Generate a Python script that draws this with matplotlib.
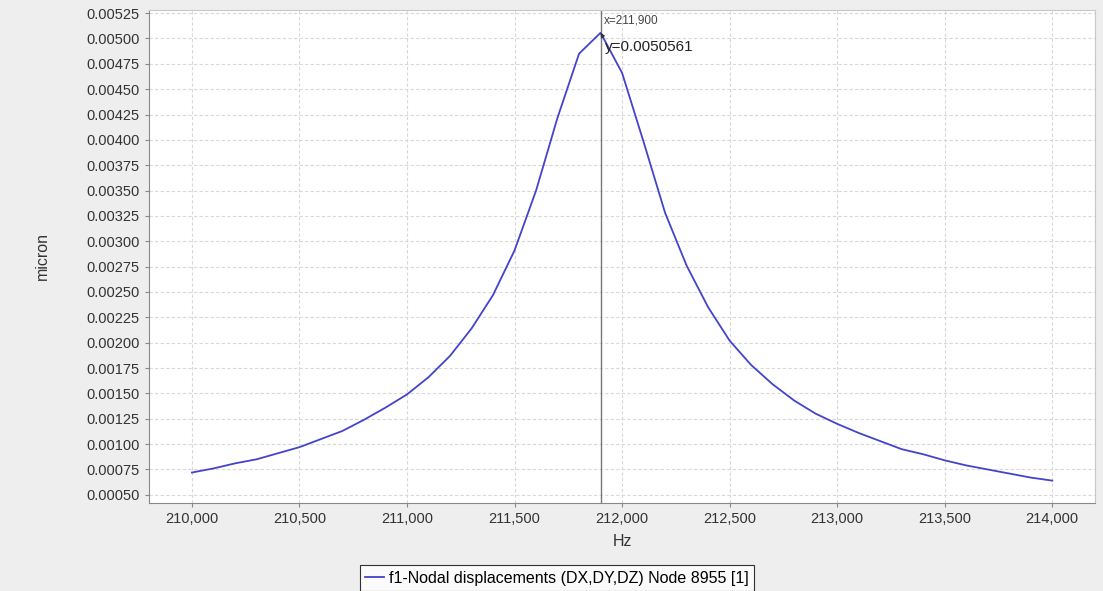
import matplotlib
matplotlib.use("Agg")
import matplotlib.pyplot as plt
from matplotlib.ticker import FuncFormatter, MultipleLocator

# frequency sweep (Hz) and displacement amplitude (micron)
freq = [210000, 210100, 210200, 210300, 210400, 210500, 210600, 210700, 210800, 210900,
        211000, 211100, 211200, 211300, 211400, 211500, 211600, 211700, 211800, 211900,
        212000, 212100, 212200, 212300, 212400, 212500, 212600, 212700, 212800, 212900,
        213000, 213100, 213200, 213300, 213400, 213500, 213600, 213700, 213800, 213900,
        214000]
disp = [0.00072, 0.00076, 0.00081, 0.00085, 0.00091, 0.00097, 0.00105, 0.00113, 0.00124, 0.00136,
        0.00149, 0.00166, 0.00187, 0.00214, 0.00247, 0.00291, 0.00350, 0.00422, 0.00485, 0.0050561,
        0.00466, 0.00398, 0.00328, 0.00276, 0.00235, 0.00202, 0.00178, 0.00159, 0.00143, 0.00130,
        0.00120, 0.00111, 0.00103, 0.00095, 0.00090, 0.00084, 0.00079, 0.00075, 0.00071, 0.00067,
        0.00064]
series_name = "f1-Nodal displacements (DX,DY,DZ) Node 8955 [1]"
cursor_x = 211900
cursor_y = 0.0050561

plt.rcParams['font.family'] = ['Liberation Sans', 'DejaVu Sans']

fig = plt.figure(figsize=(11.03, 5.91), dpi=100)
fig.patch.set_facecolor('#eeeeee')
ax = fig.add_axes([0.135, 0.149, 0.858, 0.834])
ax.set_facecolor('white')

line, = ax.plot(freq, disp, color='#4343cc', lw=1.3, label=series_name)

ax.set_xlim(209800, 214200)
ax.set_ylim(0.00042, 0.00528)
ax.xaxis.set_major_locator(MultipleLocator(500))
ax.yaxis.set_major_locator(MultipleLocator(0.00025))
ax.xaxis.set_major_formatter(FuncFormatter(lambda v, p: f"{int(round(v)):,}"))
ax.yaxis.set_major_formatter(FuncFormatter(lambda v, p: f"{v:.5f}"))
ax.tick_params(labelsize=10.5, length=3, width=0.8, direction='out',
               colors='#888888', labelcolor='#333333')

ax.grid(True, color='#d8d8d8', linestyle=(0, (3, 2)), lw=0.8)
ax.set_axisbelow(True)
for side in ['top', 'right']:
    ax.spines[side].set_color('#c8c8c8')
for side in ['left', 'bottom']:
    ax.spines[side].set_color('#888888')

ax.set_xlabel("Hz", fontsize=11.5, color='#333333', labelpad=6)
ax.set_ylabel("micron", fontsize=11.5, color='#333333', labelpad=26)

# crosshair at cursor position
ax.axvline(cursor_x, color='#777777', lw=1.0)
ax.annotate(f"x={cursor_x:,}", xy=(cursor_x, 0.00528), xytext=(2, -3),
            textcoords='offset points', fontsize=8.5, color='#444444', va='top')
ax.annotate(f"y={cursor_y}", xy=(cursor_x, cursor_y), xytext=(3, -10.5),
            textcoords='offset points', fontsize=11, color='#222222', va='center',
            arrowprops=dict(arrowstyle='-|>', color='#333333', lw=0.8, relpos=(0.03, 0.7),
                            shrinkA=0, shrinkB=0, mutation_scale=6))

leg = fig.legend(handles=[line], loc='lower center', bbox_to_anchor=(0.505, -0.014),
                 fontsize=11.5, frameon=True, fancybox=False, handlelength=1.2,
                 handletextpad=0.3, borderpad=0.35)
leg.get_frame().set_edgecolor('black')
leg.get_frame().set_linewidth(0.8)
leg.get_frame().set_facecolor('white')

fig.savefig("out.png", dpi=100, facecolor=fig.get_facecolor())
